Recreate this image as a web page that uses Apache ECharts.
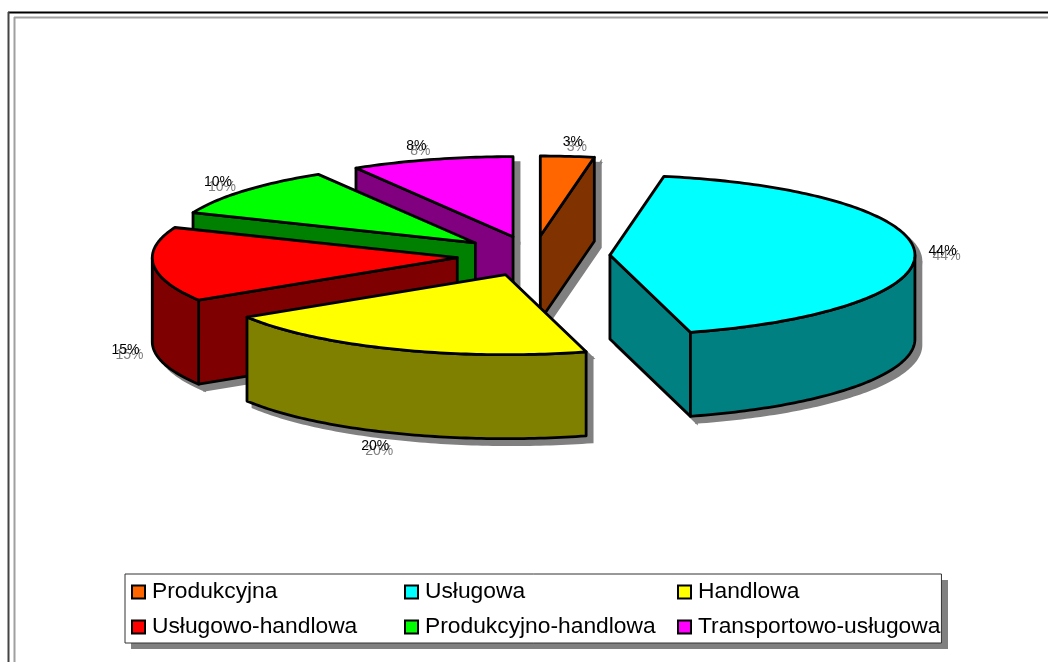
<!DOCTYPE html>
<html>
<head>
<meta charset="utf-8">
<style>
  html, body { margin: 0; padding: 0; background: #fff; }
  #chart { width: 1048px; height: 662px; }
</style>
<script src="https://cdn.jsdelivr.net/npm/echarts@6/dist/echarts.min.js"></script>
</head>
<body>
<div id="chart"></div>
<script>
const categories = ['Produkcyjna', 'Usługowa', 'Handlowa', 'Usługowo-handlowa', 'Produkcyjno-handlowa', 'Transportowo-usługowa']
const values = [3, 44, 20, 15, 10, 8]
const topColors = ['#ff6600', '#00ffff', '#ffff00', '#ff0000', '#00ff00', '#ff00ff']
const sideColors = ['#803300', '#008080', '#808000', '#7f0000', '#008000', '#800080']
// painter order, back to front (indexes into categories)
const drawOrder = [5, 4, 3, 0, 1, 2]
// degrees the 3D view takes off each slice boundary (perspective squeezes the front)
const boundarySqueeze = [0, 0.6, 4.5, 3.2, 3, 2.2, 0]

// pie projection
const cx = 533.5
const cy = 256
const rx = 305
const ry = 80
const depth = 84
const explode = 76.5
const shadowDx = 6
const shadowDy = 6
const fontFamily = '"Liberation Sans", Arial, sans-serif'

const total = values.reduce((a, b) => a + b, 0)
const rad = (deg) => (deg * Math.PI) / 180

function boundaryAngle(i) {
  const before = values.slice(0, i).reduce((a, b) => a + b, 0)
  return (before / total) * 360 - boundarySqueeze[i]
}

function sliceGeometry(i) {
  const start = boundaryAngle(i)
  const end = boundaryAngle(i + 1)
  const mid = (start + end) / 2
  return {
    start,
    end,
    mid,
    ox: cx + explode * Math.sin(rad(mid)),
    oy: cy - (explode * ry * Math.cos(rad(mid))) / rx
  }
}

function rimPoint(g, deg, dy) {
  return [g.ox + rx * Math.sin(rad(deg)), g.oy - ry * Math.cos(rad(deg)) + dy]
}

function arcPoints(g, from, to, dy) {
  const pts = []
  const steps = Math.max(1, Math.ceil(Math.abs(to - from)))
  for (let k = 0; k <= steps; k++) {
    pts.push(rimPoint(g, from + ((to - from) * k) / steps, dy))
  }
  return pts
}

// faces of one slice, hidden ones left out, in the order they have to be painted
function sliceFaces(i) {
  const g = sliceGeometry(i)
  const faces = []
  const apex = [g.ox, g.oy]
  const apexLow = [g.ox, g.oy + depth]
  const cutFace = (deg) => {
    return [apex, rimPoint(g, deg, 0), rimPoint(g, deg, depth), apexLow]
  }
  if (Math.sin(rad(g.start)) < -0.001) {
    faces.push({ points: cutFace(g.start), top: false })
  }
  if (Math.sin(rad(g.end)) > 0.001) {
    faces.push({ points: cutFace(g.end), top: false })
  }
  const wallFrom = Math.max(g.start, 90)
  const wallTo = Math.min(g.end, 270)
  if (wallTo > wallFrom) {
    const upper = arcPoints(g, wallFrom, wallTo, 0)
    const lower = arcPoints(g, wallTo, wallFrom, depth)
    faces.push({ points: upper.concat(lower), top: false })
  }
  faces.push({ points: [apex].concat(arcPoints(g, g.start, g.end, 0)), top: true })
  return faces
}

function renderSlice(params, api) {
  const i = api.value(0)
  return {
    type: 'group',
    children: sliceFaces(i).map((face) => ({
      type: 'polygon',
      shape: { points: face.points },
      style: {
        fill: face.top ? topColors[i] : sideColors[i],
        stroke: '#000',
        lineWidth: 2.8,
        lineJoin: 'round'
      }
    }))
  }
}

function renderShadow(params, api) {
  const i = api.value(0)
  return {
    type: 'group',
    x: shadowDx,
    y: shadowDy,
    children: sliceFaces(i).map((face) => ({
      type: 'polygon',
      shape: { points: face.points },
      style: { fill: '#808080', stroke: '#808080', lineWidth: 2.8 }
    }))
  }
}

function renderLabel(params, api) {
  const i = api.value(0)
  const g = sliceGeometry(i)
  const c = Math.cos(rad(g.mid))
  const x = g.ox + (rx + 28) * (1 + 0.1 * c * c * c * c) * Math.sin(rad(g.mid))
  const y = g.oy - (ry + 14) * c + (c < 0 ? depth : 0)
  const text = values[i] + '%'
  const label = (dx, dy, fill) => ({
    type: 'text',
    style: {
      text,
      x: x + dx,
      y: y + dy,
      fill,
      font: '14px ' + fontFamily,
      textAlign: 'center',
      textVerticalAlign: 'middle'
    }
  })
  return { type: 'group', children: [label(4, 5, '#808080'), label(0, 0, '#000')] }
}

const option = {
  animation: false,
  backgroundColor: '#fff',
  legend: {
    data: categories,
    left: 125,
    top: 574,
    width: 830,
    padding: [6, 1, 4, 6],
    icon: 'rect',
    itemWidth: 13,
    itemHeight: 13,
    itemGap: 11,
    selectedMode: false,
    backgroundColor: '#fff',
    borderColor: '#333',
    borderWidth: 1,
    itemStyle: { borderColor: '#000', borderWidth: 2 },
    textStyle: {
      color: '#000',
      fontFamily,
      fontSize: 22.8,
      width: 241,
      height: 24,
      lineHeight: 24,
      padding: [0, 0, 0, 2]
    }
  },
  graphic: [
    { type: 'line', z: 0, shape: { x1: 8, y1: 12.5, x2: 1048, y2: 12.5 }, style: { stroke: '#000', lineWidth: 2 } },
    { type: 'line', z: 0, shape: { x1: 8.5, y1: 12, x2: 8.5, y2: 662 }, style: { stroke: '#444', lineWidth: 2 } },
    { type: 'line', z: 0, shape: { x1: 14, y1: 17.5, x2: 1048, y2: 17.5 }, style: { stroke: '#a0a0a0', lineWidth: 2 } },
    { type: 'line', z: 0, shape: { x1: 14.5, y1: 17, x2: 14.5, y2: 662 }, style: { stroke: '#a0a0a0', lineWidth: 2 } },
    // legend drop shadow
    { type: 'rect', z: 0, shape: { x: 131, y: 580, width: 817, height: 69 }, style: { fill: '#808080' } }
  ],
  series: [
    {
      type: 'custom',
      name: 'shadow',
      coordinateSystem: 'none',
      silent: true,
      z: 1,
      renderItem: renderShadow,
      data: categories.map((c, i) => [i])
    }
  ]
    .concat(
      categories.map((name, i) => ({
        type: 'custom',
        name,
        coordinateSystem: 'none',
        silent: true,
        z: 2 + drawOrder.indexOf(i),
        itemStyle: { color: topColors[i] },
        renderItem: renderSlice,
        data: [[i]]
      }))
    )
    .concat([
      {
        type: 'custom',
        name: 'labels',
        coordinateSystem: 'none',
        silent: true,
        z: 10,
        renderItem: renderLabel,
        data: categories.map((c, i) => [i])
      }
    ])
}

const chart = echarts.init(document.getElementById('chart'))
chart.setOption(option)
</script>
</body>
</html>
